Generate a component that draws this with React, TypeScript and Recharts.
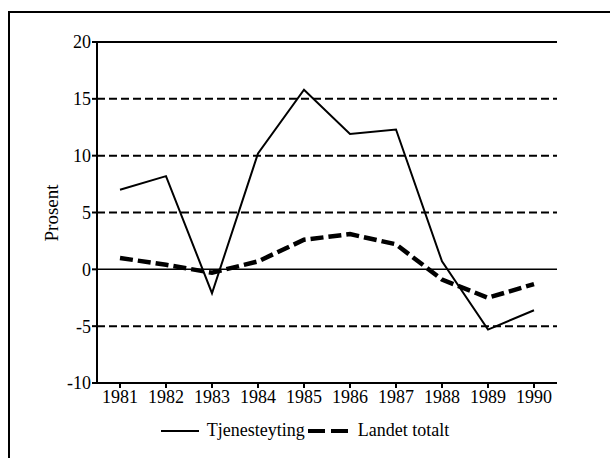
import React from 'react';
import { LineChart, Line, XAxis, YAxis, ReferenceLine, Legend } from 'recharts';

const years = ['1981', '1982', '1983', '1984', '1985', '1986', '1987', '1988', '1989', '1990'];
const tjenesteyting = [7.0, 8.2, -2.1, 10.2, 15.8, 11.9, 12.3, 0.7, -5.3, -3.6];
const landetTotalt = [1.0, 0.4, -0.3, 0.7, 2.6, 3.1, 2.2, -0.9, -2.5, -1.3];
const yTicks = [-10, -5, 0, 5, 10, 15, 20];
const dashedGrid = [-5, 5, 10, 15];
const seriesNames = ['Tjenesteyting', 'Landet totalt'];

const data = years.map((y, i) => ({ year: y, t: tjenesteyting[i], l: landetTotalt[i] }));

const FONT = '"Liberation Serif", "DejaVu Serif", serif';

const renderLegend = () => (
  <div
    style={{
      display: 'flex',
      justifyContent: 'center',
      alignItems: 'center',
      fontFamily: FONT,
      fontSize: 18,
      color: '#000',
      width: 610,
    }}
  >
    <svg width={38} height={10} style={{ display: 'block' }}>
      <line x1={0} y1={5} x2={38} y2={5} stroke="#000" strokeWidth={2} />
    </svg>
    <span style={{ marginLeft: 8, marginRight: 3 }}>{seriesNames[0]}</span>
    <svg width={40} height={10} style={{ display: 'block' }}>
      <line x1={0} y1={5} x2={40} y2={5} stroke="#000" strokeWidth={4} strokeDasharray="17 6" />
    </svg>
    <span style={{ marginLeft: 10 }}>{seriesNames[1]}</span>
  </div>
);

export default function App() {
  return (
    <div style={{ position: 'absolute', left: 0, top: 0, width: 610, height: 458, background: '#fff', overflow: 'hidden', fontFamily: FONT }}>
      <div
        style={{
          position: 'absolute',
          left: 8,
          top: 11,
          width: 640,
          height: 480,
          borderLeft: '2px solid #000',
          borderTop: '2px solid #000',
        }}
      />
      <LineChart
        width={610}
        height={458}
        data={data}
        margin={{ top: 42, right: 53, bottom: 45, left: 57 }}
        style={{ position: 'absolute', left: 0, top: 0, fontFamily: FONT }}
      >
        {dashedGrid.map((v) => (
          <ReferenceLine key={v} y={v} stroke="#000" strokeWidth={2} strokeDasharray="8 4" />
        ))}
        <ReferenceLine y={0} stroke="#000" strokeWidth={1.5} />
        <ReferenceLine y={20} stroke="#000" strokeWidth={2} />
        <XAxis
          dataKey="year"
          height={30}
          tickSize={5}
          padding={{ left: 23, right: 23 }}
          axisLine={{ stroke: '#000', strokeWidth: 2 }}
          tickLine={{ stroke: '#000', strokeWidth: 2 }}
          tick={{ fill: '#000', fontFamily: FONT, fontSize: 18 }}
          interval={0}
          tickMargin={2}
        />
        <YAxis
          width={40}
          domain={[-10, 20]}
          ticks={yTicks}
          interval={0}
          tickSize={5}
          axisLine={{ stroke: '#000', strokeWidth: 2 }}
          tickLine={{ stroke: '#000', strokeWidth: 2 }}
          tick={{ fill: '#000', fontFamily: FONT, fontSize: 18 }}
          tickMargin={1}
          label={{
            content: () => (
              <text
                x={51}
                y={213}
                transform="rotate(-90 51 213)"
                textAnchor="middle"
                dominantBaseline="central"
                fontFamily={FONT}
                fontSize={19}
                fill="#000"
              >
                Prosent
              </text>
            ),
          }}
        />
        <YAxis
          yAxisId="right"
          orientation="right"
          width={0}
          domain={[-10, 20]}
          tick={false}
          tickLine={false}
          axisLine={{ stroke: '#000', strokeWidth: 2 }}
        />
        <Line
          type="linear"
          dataKey="t"
          name={seriesNames[0]}
          stroke="#000"
          strokeWidth={2}
          dot={false}
          isAnimationActive={false}
        />
        <Line
          type="linear"
          dataKey="l"
          name={seriesNames[1]}
          stroke="#000"
          strokeWidth={4.5}
          strokeDasharray="13 5"
          dot={false}
          isAnimationActive={false}
        />
        <Legend
          layout="horizontal"
          verticalAlign="middle"
          align="center"
          content={renderLegend}
          wrapperStyle={{ top: 420, left: 0, width: 610 }}
        />
      </LineChart>
    </div>
  );
}
